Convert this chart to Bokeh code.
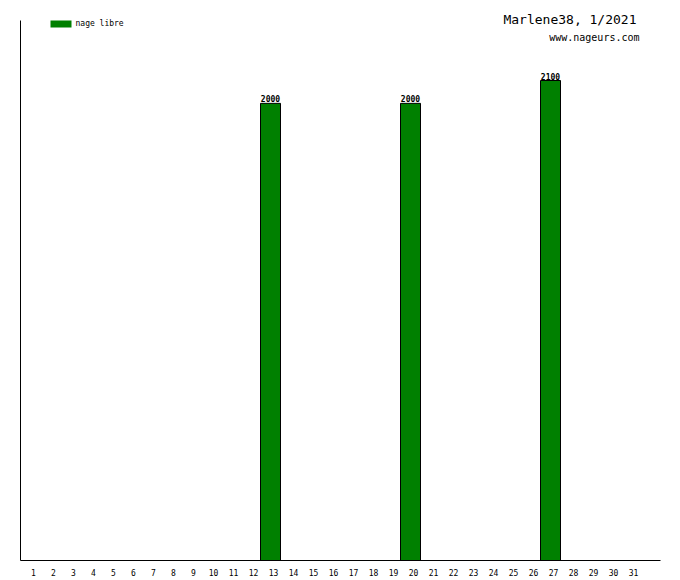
from bokeh.plotting import figure
from bokeh.models import ColumnDataSource, FixedTicker, Label, BoxAnnotation, Range1d
from bokeh.embed import file_html
from bokeh.resources import INLINE
from bokeh.core.properties import value

# ---- data ----
days = list(range(1, 32))
bar_days = [13, 20, 27]
bar_values = [2000, 2000, 2100]
title_text = "Marlene38, 1/2021"
site_text = "www.nageurs.com"
series_name = "nage libre"

MONO = "DejaVu Sans Mono"
GREEN = "#008000"

unit_per_px = 2100 / 480.0         # value scale: 480 px for 2100
axis_top = 540 * unit_per_px       # value at top of the drawn y axis line
frame_top = 560 * unit_per_px      # value at very top of the frame (canvas top)

p = figure(frame_width=640, frame_height=560,
           x_range=Range1d(0, 32), y_range=Range1d(0, frame_top),
           output_backend="svg", toolbar_location=None,
           min_border_left=20, min_border_top=0,
           min_border_right=10, min_border_bottom=8)
p.background_fill_color = "white"
p.border_fill_color = "white"
p.outline_line_color = None
p.xgrid.visible = False
p.ygrid.visible = False

# y axis: plain line only, from 0 to axis_top
p.yaxis.ticker = FixedTicker(ticks=[])
p.yaxis.bounds = (0, axis_top)
p.yaxis.major_tick_line_color = None
p.yaxis.minor_tick_line_color = None
p.yaxis.axis_line_color = "black"
p.yaxis.axis_line_width = 1

# x axis: day labels
tick_pos = [round(d - 0.35, 2) for d in days]
p.xaxis.ticker = FixedTicker(ticks=tick_pos)
p.xaxis.major_label_overrides = {t: str(d) for t, d in zip(tick_pos, days)}
p.xaxis.major_tick_line_color = None
p.xaxis.minor_tick_line_color = None
p.xaxis.major_tick_out = 0
p.xaxis.major_tick_in = 0
p.xaxis.major_label_standoff = 8
p.xaxis.major_label_text_font = MONO
p.xaxis.major_label_text_font_size = "8px"
p.xaxis.major_label_text_color = "black"
p.xaxis.axis_line_color = "black"

src = ColumnDataSource(dict(
    x=[d - 0.5 for d in bar_days],
    top=bar_values,
    label=[str(v) for v in bar_values],
))
p.vbar(x="x", width=1, top="top", bottom=0, source=src,
       fill_color=GREEN, line_color="black", line_width=1)
p.text(x="x", y="top", text="label", source=src,
       text_align="center", text_baseline="bottom", y_offset=-1,
       text_font=value(MONO), text_font_size="8px", text_color="black",
       text_font_style="bold")

# helpers: layout pixel positions -> data coords (frame x 20..660, y 0..560)
def dx(px):
    return (px - 20) / 20.0

def dy(py):
    return (560 - py) * unit_per_px

p.add_layout(Label(x=dx(636), y=dy(19), text=title_text, text_align="right",
                   text_baseline="alphabetic", text_font=MONO,
                   text_font_size="13px", text_color="black"))
p.add_layout(Label(x=dx(639), y=dy(37), text=site_text, text_align="right",
                   text_baseline="alphabetic", text_font=MONO,
                   text_font_size="10px", text_color="black"))

p.add_layout(BoxAnnotation(left=dx(50), right=dx(71), top=dy(20), bottom=dy(27),
                           fill_color=GREEN, fill_alpha=1, line_color=None))
p.add_layout(Label(x=dx(75), y=dy(22.5), text=series_name, text_align="left",
                   text_baseline="alphabetic", text_font=MONO,
                   text_font_size="8px", text_color="black"))

open("out.html", "w").write(file_html(p, INLINE))
